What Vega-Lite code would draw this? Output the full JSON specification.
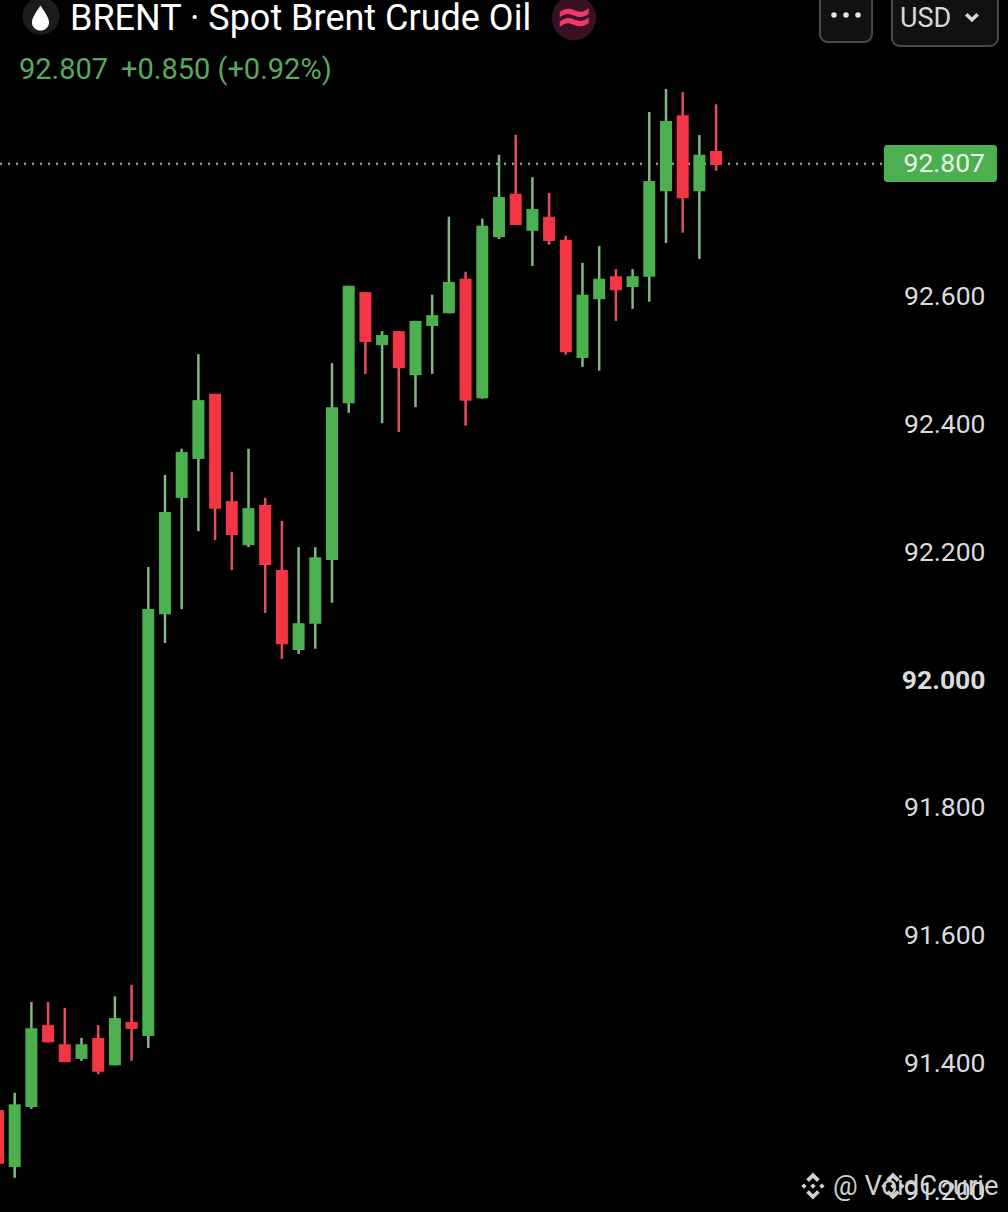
{"$schema":"https://vega.github.io/schema/vega-lite/v6.json","width":1008,"height":1212,"autosize":"none","padding":0,"background":"#000000","config":{"view":{"stroke":null},"font":"Roboto"},
"resolve":{"axis":{"y":"independent"}},
"datasets":{"candles":[
{"i":0,"open":91.327,"high":91.332,"low":91.236,"close":91.243},
{"i":1,"open":91.238,"high":91.354,"low":91.221,"close":91.336},
{"i":2,"open":91.332,"high":91.496,"low":91.329,"close":91.455},
{"i":3,"open":91.46,"high":91.496,"low":91.433,"close":91.433},
{"i":4,"open":91.43,"high":91.487,"low":91.402,"close":91.402},
{"i":5,"open":91.407,"high":91.44,"low":91.404,"close":91.43},
{"i":6,"open":91.44,"high":91.46,"low":91.383,"close":91.387},
{"i":7,"open":91.397,"high":91.505,"low":91.397,"close":91.471},
{"i":8,"open":91.465,"high":91.523,"low":91.404,"close":91.454},
{"i":9,"open":91.443,"high":92.177,"low":91.424,"close":92.111},
{"i":10,"open":92.103,"high":92.321,"low":92.058,"close":92.263},
{"i":11,"open":92.285,"high":92.362,"low":92.111,"close":92.357},
{"i":12,"open":92.346,"high":92.51,"low":92.233,"close":92.438},
{"i":13,"open":92.448,"high":92.448,"low":92.219,"close":92.268},
{"i":14,"open":92.28,"high":92.326,"low":92.172,"close":92.227},
{"i":15,"open":92.211,"high":92.362,"low":92.208,"close":92.269},
{"i":16,"open":92.274,"high":92.285,"low":92.105,"close":92.18},
{"i":17,"open":92.172,"high":92.249,"low":92.033,"close":92.056},
{"i":18,"open":92.047,"high":92.208,"low":92.041,"close":92.089},
{"i":19,"open":92.088,"high":92.208,"low":92.049,"close":92.192},
{"i":20,"open":92.188,"high":92.496,"low":92.121,"close":92.427},
{"i":21,"open":92.433,"high":92.617,"low":92.418,"close":92.617},
{"i":22,"open":92.607,"high":92.607,"low":92.479,"close":92.529},
{"i":23,"open":92.524,"high":92.546,"low":92.402,"close":92.54},
{"i":24,"open":92.546,"high":92.546,"low":92.388,"close":92.488},
{"i":25,"open":92.477,"high":92.562,"low":92.427,"close":92.562},
{"i":26,"open":92.554,"high":92.603,"low":92.479,"close":92.571},
{"i":27,"open":92.574,"high":92.725,"low":92.574,"close":92.623},
{"i":28,"open":92.628,"high":92.639,"low":92.398,"close":92.437},
{"i":29,"open":92.441,"high":92.722,"low":92.44,"close":92.711},
{"i":30,"open":92.693,"high":92.822,"low":92.69,"close":92.756},
{"i":31,"open":92.761,"high":92.853,"low":92.712,"close":92.712},
{"i":32,"open":92.703,"high":92.787,"low":92.648,"close":92.737},
{"i":33,"open":92.725,"high":92.762,"low":92.681,"close":92.687},
{"i":34,"open":92.689,"high":92.695,"low":92.509,"close":92.513},
{"i":35,"open":92.504,"high":92.653,"low":92.49,"close":92.603},
{"i":36,"open":92.596,"high":92.679,"low":92.484,"close":92.628},
{"i":37,"open":92.632,"high":92.643,"low":92.562,"close":92.61},
{"i":38,"open":92.615,"high":92.643,"low":92.581,"close":92.632},
{"i":39,"open":92.631,"high":92.889,"low":92.592,"close":92.781},
{"i":40,"open":92.765,"high":92.925,"low":92.684,"close":92.875},
{"i":41,"open":92.884,"high":92.92,"low":92.7,"close":92.754},
{"i":42,"open":92.765,"high":92.853,"low":92.659,"close":92.822},
{"i":43,"open":92.828,"high":92.901,"low":92.797,"close":92.806}
]},
"data":{"name":"candles"},
"layer":[
{"data":{"values":[{"k":"last"}]},"mark":{"type":"rule","stroke":"#9fc4a0","strokeWidth":2,"strokeDash":[2,6]},
 "encoding":{"x":{"datum":0.12,"type":"quantitative","scale":{"domain":[0.12,60.48],"nice":false,"zero":false,"padding":0},"axis":null},"x2":{"datum":53.05},
 "y":{"datum":92.808,"type":"quantitative","scale":{"domain":[91.1675,93.0642],"nice":false,"zero":false},
  "axis":{"orient":"right","values":[91.2,91.4,91.6,91.8,92,92.2,92.4,92.6],"format":".3f","title":null,"domain":false,"ticks":false,"grid":false,"labelPadding":-23,"labelAlign":"right","labelFont":"Roboto","labelFontSize":26.5,"labelColor":"#dcdcdc","labelOverlap":false,"labelBound":false,"labelFlush":false,"labelFontWeight":{"condition":{"test":"datum.value==92","value":"bold"},"value":"normal"}}}}},
{"mark":{"type":"rule","strokeWidth":2.5,"clip":true},"encoding":{"x":{"field":"i","type":"quantitative","axis":null},"y":{"field":"low","type":"quantitative","axis":null},"y2":{"field":"high"},
 "color":{"condition":{"test":"datum.close>=datum.open","value":"#82b886"},"value":"#e2505f"}}},
{"mark":{"type":"bar","size":12,"clip":true},"encoding":{"x":{"field":"i","type":"quantitative","axis":null},"y":{"field":"open","type":"quantitative","axis":null},"y2":{"field":"close"},
 "color":{"condition":{"test":"datum.close>=datum.open","value":"#4caf50"},"value":"#f23645"}}},
{"data":{"values":[{"k":"tag"}]},"mark":{"type":"rect","fill":"#4caf50","cornerRadius":3},"encoding":{"x":{"datum":53.05,"type":"quantitative","axis":null},"x2":{"datum":59.82},"y":{"datum":92.8372,"type":"quantitative","axis":null},"y2":{"datum":92.7793}}},
{"data":{"values":[{"t":"92.807"}]},"mark":{"type":"text","align":"right","baseline":"middle","font":"Roboto","fontSize":26.5,"fill":"#eaf5ea"},"encoding":{"text":{"field":"t"},"x":{"datum":59.1,"type":"quantitative","axis":null},"y":{"datum":92.807,"type":"quantitative","axis":null}}},
{"data":{"values":[{"k":"box"}]},"mark":{"type":"rect","fill":"#111111","stroke":"#4a4a4a","strokeWidth":2,"cornerRadius":8},"encoding":{"x":{"datum":49.22,"type":"quantitative","axis":null},"x2":{"datum":52.34},"y":{"datum":93.0736,"type":"quantitative","axis":null},"y2":{"datum":92.9984}}},
{"data":{"values":[{"k":"box"}]},"mark":{"type":"rect","fill":"#111111","stroke":"#4a4a4a","strokeWidth":2,"cornerRadius":8},"encoding":{"x":{"datum":53.53,"type":"quantitative","axis":null},"x2":{"datum":59.88},"y":{"datum":93.0736,"type":"quantitative","axis":null},"y2":{"datum":92.9922}}},
{"data":{"values":[{"i":50.06},{"i":50.78},{"i":51.5}]},"mark":{"type":"point","shape":"circle","filled":true,"fill":"#e6e6e6","size":30,"opacity":1},"encoding":{"x":{"field":"i","type":"quantitative","axis":null},"y":{"datum":93.0407,"type":"quantitative","axis":null}}},
{"data":{"values":[{"t":"USD"}]},"mark":{"type":"text","align":"left","baseline":"alphabetic","font":"Roboto","fontSize":27,"fill":"#d8d8d8"},"encoding":{"text":{"field":"t"},"x":{"datum":54.01,"type":"quantitative","axis":null},"y":{"datum":93.0219,"type":"quantitative","axis":null}}},
{"data":{"values":[{"k":"chevron"}]},"mark":{"type":"point","shape":"M-1,-0.5L0,0.5L1,-0.5","filled":false,"stroke":"#d8d8d8","strokeWidth":3.5,"size":130,"opacity":1},"encoding":{"x":{"datum":58.32,"type":"quantitative","axis":null},"y":{"datum":93.0376,"type":"quantitative","axis":null}}},
{"data":{"values":[{"k":"logo"}]},"mark":{"type":"point","shape":"circle","filled":true,"fill":"#1c1c1c","size":1385,"opacity":1},"encoding":{"x":{"datum":2.575,"type":"quantitative","axis":null},"y":{"datum":93.0391,"type":"quantitative","axis":null}}},
{"data":{"values":[{"k":"drop"}]},"mark":{"type":"point","shape":"M0,-1C0.35,-0.45 0.68,-0.05 0.68,0.35A0.68,0.65 0 0 1 -0.68,0.35C-0.68,-0.05 -0.35,-0.45 0,-1Z","filled":true,"fill":"#ffffff","size":625,"opacity":1},"encoding":{"x":{"datum":2.545,"type":"quantitative","axis":null},"y":{"datum":93.036,"type":"quantitative","axis":null}}},
{"data":{"values":[{"t":"BRENT · Spot Brent Crude Oil"}]},"mark":{"type":"text","align":"left","baseline":"alphabetic","font":"Roboto","fontSize":36,"fill":"#ffffff"},"encoding":{"text":{"field":"t"},"x":{"datum":4.31,"type":"quantitative","axis":null},"y":{"datum":93.0172,"type":"quantitative","axis":null}}},
{"data":{"values":[{"k":"logo2"}]},"mark":{"type":"point","shape":"circle","filled":true,"fill":"#3a1024","size":1963,"opacity":1},"encoding":{"x":{"datum":34.49,"type":"quantitative","axis":null},"y":{"datum":93.036,"type":"quantitative","axis":null}}},
{"data":{"values":[{"t":"≈"}]},"mark":{"type":"text","align":"center","baseline":"middle","font":"DejaVu Sans","fontSize":46,"fontWeight":"bold","fill":"#f0386b"},"encoding":{"text":{"field":"t"},"x":{"datum":34.49,"type":"quantitative","axis":null},"y":{"datum":93.036,"type":"quantitative","axis":null}}},
{"data":{"values":[{"t":"92.807"}]},"mark":{"type":"text","align":"left","baseline":"alphabetic","font":"Roboto","fontSize":29,"fill":"#5aa85e"},"encoding":{"text":{"field":"t"},"x":{"datum":1.258,"type":"quantitative","axis":null},"y":{"datum":92.9405,"type":"quantitative","axis":null}}},
{"data":{"values":[{"t":"+0.850 (+0.92%)"}]},"mark":{"type":"text","align":"left","baseline":"alphabetic","font":"Roboto","fontSize":29,"fill":"#5aa85e"},"encoding":{"text":{"field":"t"},"x":{"datum":7.366,"type":"quantitative","axis":null},"y":{"datum":92.9405,"type":"quantitative","axis":null}}},
{"data":{"values":[{"k":"wm"}]},"mark":{"type":"point","shape":"M0,-0.9L0.45,-0.45L0.27,-0.27L0,-0.54L-0.27,-0.27L-0.45,-0.45ZM0,0.9L0.45,0.45L0.27,0.27L0,0.54L-0.27,0.27L-0.45,0.45ZM-0.6,-0.18L-0.42,0L-0.6,0.18L-0.78,0ZM0.6,-0.18L0.78,0L0.6,0.18L0.42,0ZM0,-0.18L0.18,0L0,0.18L-0.18,0Z","filled":true,"fill":"#d0d0d0","size":900,"opacity":1},"encoding":{"x":{"datum":48.8,"type":"quantitative","axis":null},"y":{"datum":91.208,"type":"quantitative","axis":null}}},
{"data":{"values":[{"k":"wm"}]},"mark":{"type":"point","shape":"M0,-0.9L0.45,-0.45L0.27,-0.27L0,-0.54L-0.27,-0.27L-0.45,-0.45ZM0,0.9L0.45,0.45L0.27,0.27L0,0.54L-0.27,0.27L-0.45,0.45ZM-0.6,-0.18L-0.42,0L-0.6,0.18L-0.78,0ZM0.6,-0.18L0.78,0L0.6,0.18L0.42,0ZM0,-0.18L0.18,0L0,0.18L-0.18,0Z","filled":true,"fill":"#d0d0d0","size":900,"opacity":1},"encoding":{"x":{"datum":53.59,"type":"quantitative","axis":null},"y":{"datum":91.208,"type":"quantitative","axis":null}}},
{"data":{"values":[{"t":"@ VoidCourie"}]},"mark":{"type":"text","align":"left","baseline":"alphabetic","font":"Roboto","fontSize":27.5,"fill":"#d0d0d0"},"encoding":{"text":{"field":"t"},"x":{"datum":50,"type":"quantitative","axis":null},"y":{"datum":91.194,"type":"quantitative","axis":null}}}
]}
